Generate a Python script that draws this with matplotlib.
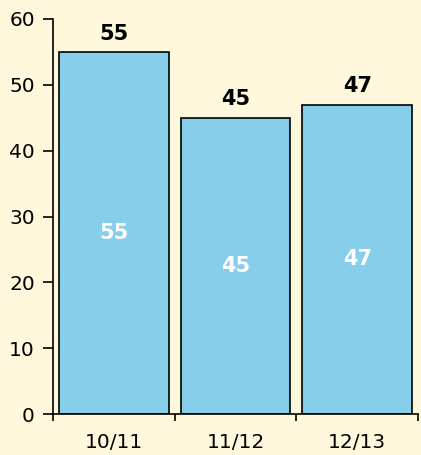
import matplotlib
matplotlib.use("Agg")
import matplotlib.pyplot as plt

categories = ["10/11", "11/12", "12/13"]
values = [55, 45, 47]

bg = "#FFF8DC"
plt.rcParams['font.family'] = ['DejaVu Sans']

fig = plt.figure(figsize=(4.21, 4.55), dpi=100, facecolor=bg)
ax = fig.add_axes([53/421, 41/455, 365/421, 395/455])
ax.set_facecolor(bg)

x = list(range(len(categories)))
bars = ax.bar(x, values, width=0.9, color="#87CEEB", edgecolor="black", linewidth=1.2, zorder=2)

ax.set_xlim(-0.5, len(categories) - 0.5)
ax.set_ylim(0, 60)
ax.set_yticks([0, 10, 20, 30, 40, 50, 60])

ax.set_xticks([i - 0.5 for i in range(len(categories) + 1)])
ax.set_xticklabels([])
ax.set_xticks(x, minor=True)
ax.set_xticklabels(categories, minor=True)
ax.tick_params(axis='x', which='minor', length=0, pad=14, labelsize=14.5)
ax.tick_params(axis='x', which='major', length=5, width=1.2, direction='out')
ax.tick_params(axis='y', length=7, width=1.2, direction='out', labelsize=14.5, pad=6)

for s in ["top", "right"]:
    ax.spines[s].set_visible(False)
for s in ["left", "bottom"]:
    ax.spines[s].set_linewidth(1.2)

for xi, v in zip(x, values):
    ax.annotate(str(v), (xi, v), xytext=(0, 6), textcoords="offset points",
                ha="center", va="bottom", fontsize=15, fontweight="bold", color="black")
    ax.text(xi, v / 2, str(v), ha="center", va="center", fontsize=15,
            fontweight="bold", color="white")

fig.savefig("out.png", dpi=100, facecolor=bg)
